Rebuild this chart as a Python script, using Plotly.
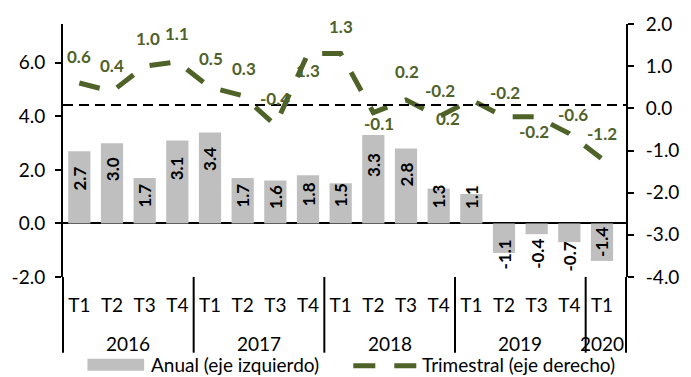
import plotly.graph_objects as go

# ---------------- data ----------------
years = ["2016"] * 4 + ["2017"] * 4 + ["2018"] * 4 + ["2019"] * 4 + ["2020"]
quarters = ["T1", "T2", "T3", "T4"] * 4 + ["T1"]
anual = [2.7, 3.0, 1.7, 3.1, 3.4, 1.7, 1.6, 1.8, 1.5, 3.3, 2.8, 1.3, 1.1,
         -1.1, -0.4, -0.7, -1.4]
trimestral = [0.6, 0.4, 1.0, 1.1, 0.5, 0.3, -0.4, 1.3, 1.3, -0.1, 0.2, -0.2,
              0.2, -0.2, -0.2, -0.6, -1.2]
left_ticks = [-2.0, 0.0, 2.0, 4.0, 6.0]
right_ticks = [-4.0, -3.0, -2.0, -1.0, 0.0, 1.0, 2.0]
ref_line_value = 0.08  # dashed reference line (right axis)
legend_names = ["Anual (eje izquierdo)", "Trimestral (eje derecho)"]

# ---------------- styles ----------------
GREEN = "#4F6228"
GRAY = "#BFBFBF"
FONT = "Lato"
FS = 19      # regular text size
FS_LBL = 17  # bold data-label size
W, H = 691, 377
L, R, T, B = 59, 635, 23, 277  # plot area in px
LEG_Y = 365

# per-label pixel offsets (style): (dx, dy) with dy positive = down
line_label_offsets = [(0, -27), (0, -26), (3, -28), (0, -28), (1, -29), (1, -27),
                      (0, -27), (0, 17), (0, -27), (6, 11), (1, -28), (1, -26),
                      (-23, 19), (1, -24), (-3, 15), (4, -19), (0, -25)]
bar_label_dy = [27, 26, 18, 27.5, 26.5, 18, 16, 19, 12, 29.5, 26, 8, 2.6,
                1.5, 20, 14, -19]


def px_x(p):
    return (p - L) / (R - L)


def px_y(p):
    return (B - p) / (B - T)


cats = [f"{y} {q}" for y, q in zip(years, quarters)]

fig = go.Figure()
fig.add_trace(go.Bar(x=cats, y=anual, name=legend_names[0], marker_color=GRAY,
                     marker_line_width=0, yaxis="y"))
fig.add_trace(go.Scatter(x=cats, y=trimestral, name=legend_names[1], mode="lines",
                         line=dict(color=GREEN, width=5, dash="21px,19px"),
                         yaxis="y2"))

annotations = []
# bar labels
for c, v, dy in zip(cats, anual, bar_label_dy):
    annotations.append(dict(x=c, y=v, xref="x", yref="y", text=f"{v:.1f}",
                            textangle=-90, showarrow=False, yshift=-dy,
                            xanchor="center", yanchor="middle",
                            font=dict(family=FONT, size=FS_LBL, color="black", weight="bold")))
# line labels
for c, v, (dx, dy) in zip(cats, trimestral, line_label_offsets):
    annotations.append(dict(x=c, y=v, xref="x", yref="y2", text=f"{v:.1f}",
                            showarrow=False, xshift=dx, yshift=-dy,
                            xanchor="center", yanchor="middle",
                            font=dict(family=FONT, size=FS_LBL, color=GREEN, weight="bold")))

# year labels
uniq_years = []
for y in years:
    if y not in uniq_years:
        uniq_years.append(y)
for yv in uniq_years:
    idx = [i for i, y in enumerate(years) if y == yv]
    annotations.append(dict(x=sum(idx) / len(idx), y=px_y(343.5), xref="x", yref="paper",
                            text=yv, showarrow=False, xanchor="center", yanchor="middle",
                            font=dict(family=FONT, size=FS, color="black")))

shapes = []
# group separators
for i in range(1, len(years)):
    if years[i] != years[i - 1]:
        shapes.append(dict(type="line", xref="x", yref="paper", x0=i - 0.5, x1=i - 0.5,
                           y0=0, y1=px_y(353), line=dict(color="black", width=2)))
# axis line extensions
for xp in (0, 1):
    shapes.append(dict(type="line", xref="paper", yref="paper", x0=xp, x1=xp,
                       y0=0, y1=px_y(353), line=dict(color="black", width=2)))
# dashed reference line
shapes.append(dict(type="line", xref="paper", yref="y2", x0=0, x1=1,
                   y0=ref_line_value, y1=ref_line_value,
                   line=dict(color="black", width=2, dash="10px,6px")))

# manual legend
shapes.append(dict(type="rect", xref="paper", yref="paper", x0=px_x(84), x1=px_x(142),
                   y0=px_y(LEG_Y + 6), y1=px_y(LEG_Y - 6), fillcolor=GRAY, line=dict(width=0)))
annotations.append(dict(x=px_x(147), y=px_y(LEG_Y), xref="paper", yref="paper",
                        text=legend_names[0], showarrow=False, xanchor="left",
                        yanchor="middle", font=dict(family=FONT, size=FS, color="black")))
shapes.append(dict(type="line", xref="paper", yref="paper", x0=px_x(356), x1=px_x(421),
                   y0=px_y(LEG_Y + 1), y1=px_y(LEG_Y + 1),
                   line=dict(color=GREEN, width=5, dash="22px,19px")))
annotations.append(dict(x=px_x(424), y=px_y(LEG_Y), xref="paper", yref="paper",
                        text=legend_names[1], showarrow=False, xanchor="left",
                        yanchor="middle", font=dict(family=FONT, size=FS, color="black")))

axis_common = dict(showgrid=False, showline=True, linecolor="black", linewidth=2,
                   ticks="outside", ticklen=6, tickwidth=2, tickcolor="black",
                   tickfont=dict(family=FONT, size=FS, color="black"))

fig.update_layout(
    width=W, height=H,
    margin=dict(l=L, r=W - R, t=T, b=H - B, pad=0),
    plot_bgcolor="white", paper_bgcolor="white",
    showlegend=False, bargap=0.32,
    font=dict(family=FONT, size=FS, color="black"),
    xaxis=dict(type="category", categoryorder="array", categoryarray=cats,
               tickvals=cats, ticktext=quarters, ticks="", showline=False,
               showgrid=False, zeroline=False, ticklabelstandoff=15,
               tickfont=dict(family=FONT, size=FS, color="black")),
    yaxis=dict(range=[-2, 7.45], tickvals=left_ticks,
               ticktext=[f"{v:.1f}" for v in left_ticks],
               zeroline=True, zerolinecolor="black", zerolinewidth=2,
               ticklabelstandoff=6, **axis_common),
    yaxis2=dict(range=[-4, 2], tickvals=right_ticks,
                ticktext=[f"{v:.1f}" for v in right_ticks],
                overlaying="y", side="right", zeroline=False,
                ticklabelstandoff=8, **axis_common),
    annotations=annotations, shapes=shapes,
)

fig.write_html("out.html")
